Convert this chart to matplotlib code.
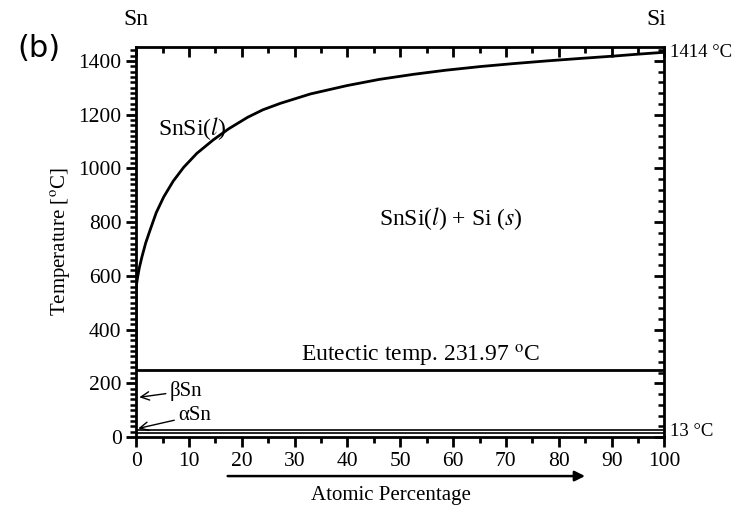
import numpy as np
import matplotlib.pyplot as plt
from matplotlib.ticker import MultipleLocator

# liquidus curve
liq_x = [0, 0, 0.1, 0.25, 0.6, 1.1, 1.8, 2.65, 3.8, 5.2, 7.0, 9.0, 11.5, 14.6, 17.5,
         21.1, 24.0, 27.3, 33.0, 39.9, 46.0, 52.5, 58.5, 65.2, 71.5, 77.8, 84.0, 90.5, 95.0, 100]
liq_t = [249, 550, 572, 592, 630, 671, 722, 771, 835, 893, 952, 1004, 1056, 1106, 1147,
         1190, 1218, 1242, 1277, 1308, 1331, 1350, 1365, 1379, 1390, 1400, 1409, 1418, 1425, 1432]

eutectic_t = 249
alpha_beta_t = [14, 28]
x_ticks = np.arange(0, 101, 10)
y_ticks = np.arange(0, 1401, 200)

plt.rcParams['font.family'] = ['Liberation Serif', 'DejaVu Serif']
plt.rcParams['mathtext.fontset'] = 'stix'

fig = plt.figure(figsize=(7.44, 5.07), dpi=100)
ax = fig.add_axes([0.183, 0.138, 0.710, 0.770])

ax.plot(liq_x, liq_t, color='black', lw=2, solid_joinstyle='round')
ax.axhline(eutectic_t, color='black', lw=2)
for t in alpha_beta_t:
    ax.axhline(t, color='black', lw=1.2)

ax.set_xlim(0, 100)
ax.set_ylim(0, 1453)
ax.set_xticks(x_ticks)
ax.set_yticks(y_ticks)
ax.xaxis.set_minor_locator(MultipleLocator(5))
ax.yaxis.set_minor_locator(MultipleLocator(20))
ax.tick_params(axis='both', labelsize=15.5)
ax.tick_params(axis='x', which='major', direction='out', length=7, width=2, top=False)
ax.tick_params(axis='x', which='minor', direction='out', length=4, width=2, top=False)
ax.tick_params(axis='y', which='major', direction='out', length=7, width=2, right=False)
ax.tick_params(axis='y', which='minor', direction='out', length=4.5, width=1.8, right=False)
for s in ax.spines.values():
    s.set_linewidth(2)

# top and right ticks point inward
top = ax.secondary_xaxis('top')
top.set_xticks(x_ticks)
top.xaxis.set_minor_locator(MultipleLocator(5))
top.tick_params(which='major', direction='in', length=7, width=2, labeltop=False)
top.tick_params(which='minor', direction='in', length=4, width=2)
right = ax.secondary_yaxis('right')
right.set_yticks(y_ticks)
right.yaxis.set_minor_locator(MultipleLocator(40))
right.tick_params(which='major', direction='in', length=7, width=2, labelright=False)
right.tick_params(which='minor', direction='in', length=4, width=1.8)

ax.set_ylabel('Temperature [$^{\\rm o}$C]', fontsize=15, labelpad=4)

ax.text(4.2, 1150, 'SnSi($l$)', fontsize=17, va='center')
ax.text(59.5, 815, 'SnSi($l$) + Si ($s$)', fontsize=17, va='center', ha='center')
ax.text(53.8, 300, 'Eutectic temp. 231.97 $^{\\rm o}$C', fontsize=17, va='center', ha='center')
ax.annotate('βSn', xy=(0.6, 148), xytext=(6.4, 172), fontsize=15, va='center',
            arrowprops=dict(arrowstyle='->', color='black', lw=1, shrinkA=1, shrinkB=0))
ax.annotate('αSn', xy=(0.4, 32), xytext=(8.0, 80), fontsize=15, va='center',
            arrowprops=dict(arrowstyle='->', color='black', lw=1, shrinkA=1, shrinkB=0))

ax.text(101, 1432, '1414 °C', fontsize=13.5, va='center', ha='left')
ax.text(101, 22, '13 °C', fontsize=13.5, va='center', ha='left')
ax.text(0, 1515, 'Sn', fontsize=17, ha='center', va='bottom', clip_on=False)
ax.text(98.5, 1515, 'Si', fontsize=17, ha='center', va='bottom', clip_on=False)

fig.text(0.053, 0.905, '(b)', fontsize=22, family='DejaVu Sans', ha='center', va='center')

# axis label arrow
ax.annotate('', xy=(85.5, -0.1), xytext=(16.8, -0.1), xycoords=('data', 'axes fraction'),
            textcoords=('data', 'axes fraction'),
            arrowprops=dict(arrowstyle='-|>', color='black', lw=1.8, mutation_scale=15))
fig.text(0.525, 0.022, 'Atomic Percentage', fontsize=15, ha='center', va='center')

fig.savefig('out.png', dpi=100)
